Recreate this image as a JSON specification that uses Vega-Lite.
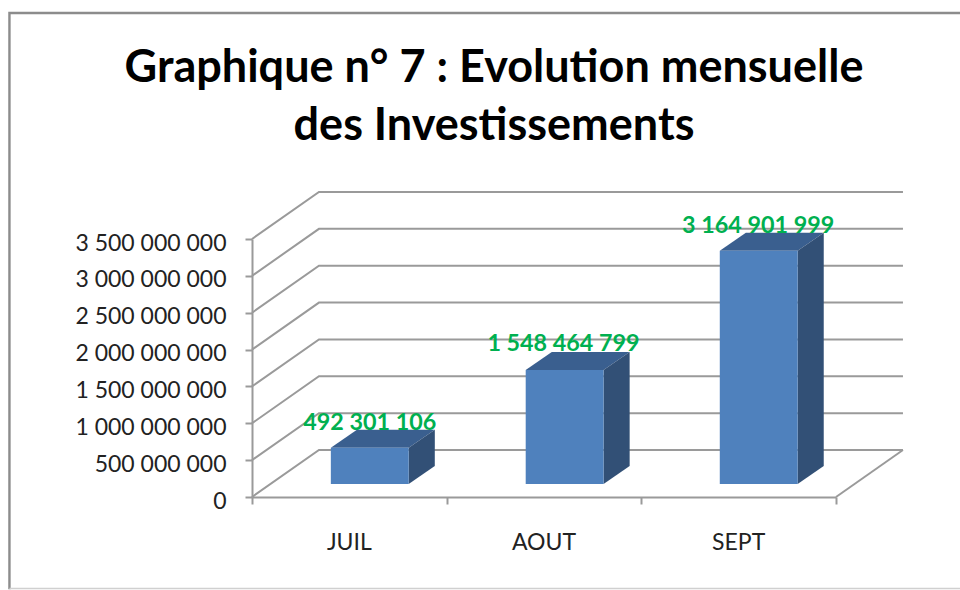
{
"$schema":"https://vega.github.io/schema/vega-lite/v6.json",
"width":584,"height":258,
"autosize":"none",
"padding":{"left":252,"top":239,"right":124,"bottom":93},
"background":"white",
"view":{"stroke":null},
"config":{"axisY":{"labelOverlap":false}},
"title":{"text":["Graphique n° 7 : Evolution mensuelle","des Investissements"],"anchor":"middle","frame":"group","dx":-50,"offset":-141,"font":"Lato","fontSize":45,"fontWeight":"bold","color":"#000000","lineHeight":58},
"layer":[
{"data":{"values":[
{"id":"g0","x":0,"y":0},{"id":"g0","x":0.344,"y":637600000},{"id":"g0","x":3.344,"y":637600000},
{"id":"g1","x":0,"y":500000000},{"id":"g1","x":0.344,"y":1137600000},{"id":"g1","x":3.344,"y":1137600000},
{"id":"g2","x":0,"y":1000000000},{"id":"g2","x":0.344,"y":1637600000},{"id":"g2","x":3.344,"y":1637600000},
{"id":"g3","x":0,"y":1500000000},{"id":"g3","x":0.344,"y":2137600000},{"id":"g3","x":3.344,"y":2137600000},
{"id":"g4","x":0,"y":2000000000},{"id":"g4","x":0.344,"y":2637600000},{"id":"g4","x":3.344,"y":2637600000},
{"id":"g5","x":0,"y":2500000000},{"id":"g5","x":0.344,"y":3137600000},{"id":"g5","x":3.344,"y":3137600000},
{"id":"g6","x":0,"y":3000000000},{"id":"g6","x":0.344,"y":3637600000},{"id":"g6","x":3.344,"y":3637600000},
{"id":"g7","x":0,"y":3500000000},{"id":"g7","x":0.344,"y":4137600000},{"id":"g7","x":3.344,"y":4137600000},
{"id":"floor","x":3,"y":0},{"id":"floor","x":3.344,"y":637600000}
]},
"mark":{"type":"line","color":"#9a9a9a","strokeWidth":2,"clip":false},
"encoding":{
"x":{"field":"x","type":"quantitative","scale":{"domain":[0,3],"nice":false,"zero":false},"axis":{"values":[0,1,2,3],"title":null,"labels":false,"grid":false,"domainColor":"#9a9a9a","domainWidth":2,"tickColor":"#9a9a9a","tickWidth":2,"tickSize":7}},
"y":{"field":"y","type":"quantitative","scale":{"domain":[0,3500000000],"nice":false},"axis":{"tickCount":8,"labelExpr":"replace(format(datum.value,','),/,/g,' ')","labelOverlap":false,"labelBound":false,"labelFlush":false,"title":null,"grid":false,"domainColor":"#9a9a9a","domainWidth":2,"tickColor":"#9a9a9a","tickWidth":2,"tickSize":7,"labelFont":"Lato","labelFontSize":23,"labelColor":"#222222","labelPadding":19,"labelOffset":4}},
"detail":{"field":"id"}
}},
{"data":{"values":[
{"month":"JUIL","face":"top","y":668300000,"x":0.405,"x2":0.805},{"month":"JUIL","face":"top","y":912000000,"x":0.539,"x2":0.939},
{"month":"AOUT","face":"top","y":1724500000,"x":1.406,"x2":1.806},{"month":"AOUT","face":"top","y":1968000000,"x":1.54,"x2":1.94},
{"month":"SEPT","face":"top","y":3341000000,"x":2.403,"x2":2.803},{"month":"SEPT","face":"top","y":3585000000,"x":2.537,"x2":2.937}
]},
"mark":{"type":"area","orient":"horizontal","color":"#3a5f8f","clip":false},
"encoding":{
"x":{"field":"x","type":"quantitative"},"x2":{"field":"x2"},
"y":{"field":"y","type":"quantitative"},
"detail":{"field":"month"}
}},
{"data":{"values":[
{"month":"JUIL","x":0.805,"y":176000000,"y2":668300000},{"month":"JUIL","x":0.939,"y":420000000,"y2":912000000},
{"month":"AOUT","x":1.806,"y":176000000,"y2":1724500000},{"month":"AOUT","x":1.94,"y":420000000,"y2":1968000000},
{"month":"SEPT","x":2.803,"y":176000000,"y2":3341000000},{"month":"SEPT","x":2.937,"y":420000000,"y2":3585000000}
]},
"mark":{"type":"area","color":"#325076","clip":false},
"encoding":{
"x":{"field":"x","type":"quantitative"},
"y":{"field":"y","type":"quantitative"},"y2":{"field":"y2"},
"detail":{"field":"month"}
}},
{"data":{"values":[
{"month":"JUIL","x":0.405,"x2":0.805,"y":176000000,"y2":668300000},
{"month":"AOUT","x":1.406,"x2":1.806,"y":176000000,"y2":1724500000},
{"month":"SEPT","x":2.403,"x2":2.803,"y":176000000,"y2":3341000000}
]},
"mark":{"type":"rect","color":"#4f81bd","clip":false},
"encoding":{
"x":{"field":"x","type":"quantitative"},"x2":{"field":"x2"},
"y":{"field":"y","type":"quantitative"},"y2":{"field":"y2"}
}},
{"data":{"values":[
{"label":"492 301 106","x":0.605,"y":1010000000},
{"label":"1 548 464 799","x":1.6,"y":2070000000},
{"label":"3 164 901 999","x":2.6,"y":3670000000}
]},
"mark":{"type":"text","font":"Lato","fontWeight":"bold","fontSize":23.3,"color":"#00b050","align":"center","baseline":"middle","clip":false},
"encoding":{
"x":{"field":"x","type":"quantitative"},
"y":{"field":"y","type":"quantitative"},
"text":{"field":"label"}
}},
{"data":{"values":[
{"label":"JUIL","x":0.5,"y":-630000000},
{"label":"AOUT","x":1.5,"y":-630000000},
{"label":"SEPT","x":2.5,"y":-630000000}
]},
"mark":{"type":"text","font":"Lato","fontSize":23,"color":"#222222","align":"center","baseline":"middle","clip":false},
"encoding":{
"x":{"field":"x","type":"quantitative"},
"y":{"field":"y","type":"quantitative"},
"text":{"field":"label"}
}},
{"data":{"values":[
{"ord":1,"x":3.637,"y":6566000000},{"ord":2,"x":-1.246,"y":6566000000},{"ord":3,"x":-1.246,"y":-1250000000}
]},
"mark":{"type":"line","color":"#8c8c8c","strokeWidth":2.4,"clip":false},
"encoding":{
"x":{"field":"x","type":"quantitative"},
"y":{"field":"y","type":"quantitative"},
"order":{"field":"ord","type":"quantitative"}
}},
{"data":{"values":[
{"ord":1,"x":-1.246,"y":-1240000000},{"ord":2,"x":3.637,"y":-1240000000}
]},
"mark":{"type":"line","color":"#d0d0d0","strokeWidth":1.5,"clip":false},
"encoding":{
"x":{"field":"x","type":"quantitative"},
"y":{"field":"y","type":"quantitative"},
"order":{"field":"ord","type":"quantitative"}
}}
]
}
